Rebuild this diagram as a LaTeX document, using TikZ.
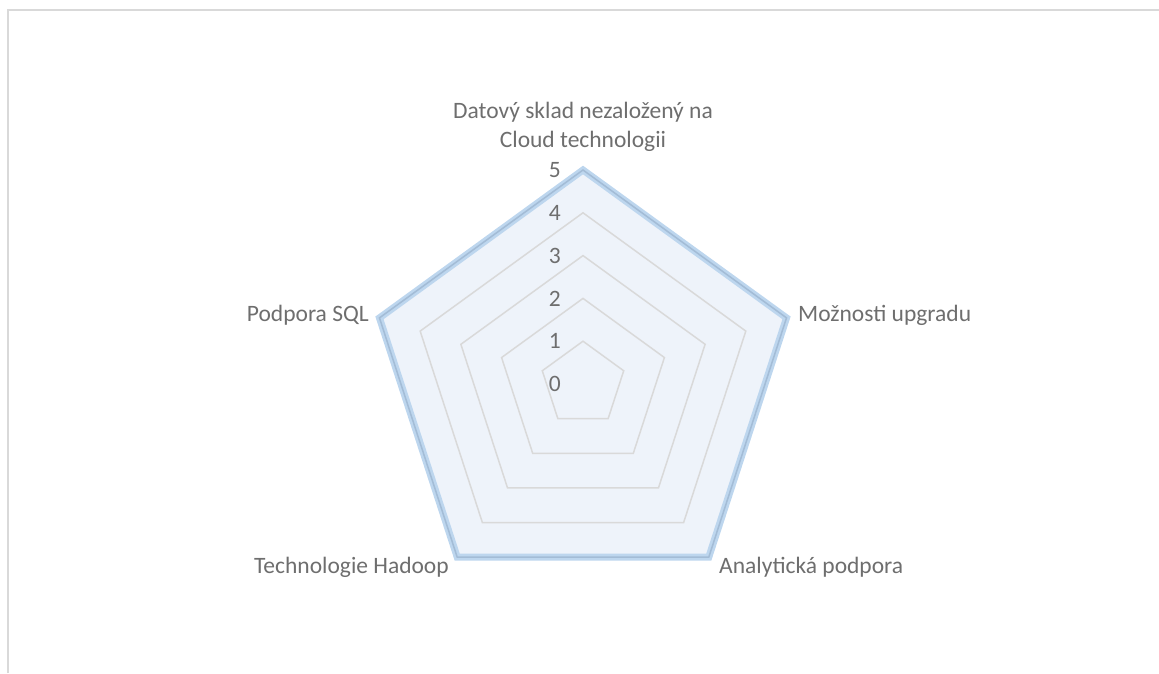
\documentclass[tikz,border=0pt]{standalone}
\usepackage{fontspec}
\setmainfont{Carlito}
\definecolor{gridgray}{HTML}{D9D9D9}
\definecolor{labelgray}{HTML}{6E6E6E}
\definecolor{seriesblue}{HTML}{BDD6EE}
\definecolor{seriesfill}{HTML}{EEF3FA}
\definecolor{outergrid}{HTML}{A3BCD6}
\begin{document}
\begin{tikzpicture}[x=1pt,y=1pt,
  grid/.style={draw=gridgray,line width=1.5pt,line join=miter},
  series/.style={draw=seriesblue,line width=7pt,line join=miter,fill=seriesfill},
  cat/.style={text=labelgray,inner sep=0pt,font=\fontsize{23.5}{28.5}\selectfont},
  tick/.style={text=labelgray,inner sep=0pt,anchor=east,font=\fontsize{23.5}{28}\selectfont}]
  % canvas
  \useasboundingbox (-583,-289) rectangle (576,384);
  \draw[draw=gridgray,line width=1.5pt] (-575,-289) -- (-575,374) -- (576,374);

  % data series: value 5 on every axis
  \draw[series] (90:214) -- (18:214) -- (-54:214) -- (-126:214) -- (162:214) -- cycle;

  % concentric pentagon gridlines, 42.8 per unit
  \foreach \k in {1,...,4}{
    \draw[grid] (90:\k*42.8) -- (18:\k*42.8) -- (-54:\k*42.8)
      -- (-126:\k*42.8) -- (162:\k*42.8) -- cycle;
  }
  % outermost gridline, seen through the series line
  \draw[grid,draw=outergrid] (90:214) -- (18:214) -- (-54:214)
    -- (-126:214) -- (162:214) -- cycle;

  % radial axis values
  \foreach \k in {0,...,5}{
    \node[tick] (v\k) at (-22,\k*42.8) {\k};
  }

  % category labels
  \node[cat,anchor=base,align=center] (top) at (0,237)
    {Datový sklad nezaložený na\\Cloud technologii};
  \node[cat,anchor=base west] (upg) at (215,63) {Možnosti upgradu};
  \node[cat,anchor=base west] (ana) at (136,-189) {Analytická podpora};
  \node[cat,anchor=base east] (had) at (-134,-189) {Technologie Hadoop};
  \node[cat,anchor=base east] (sql) at (-214,63) {Podpora SQL};
\end{tikzpicture}
\end{document}
